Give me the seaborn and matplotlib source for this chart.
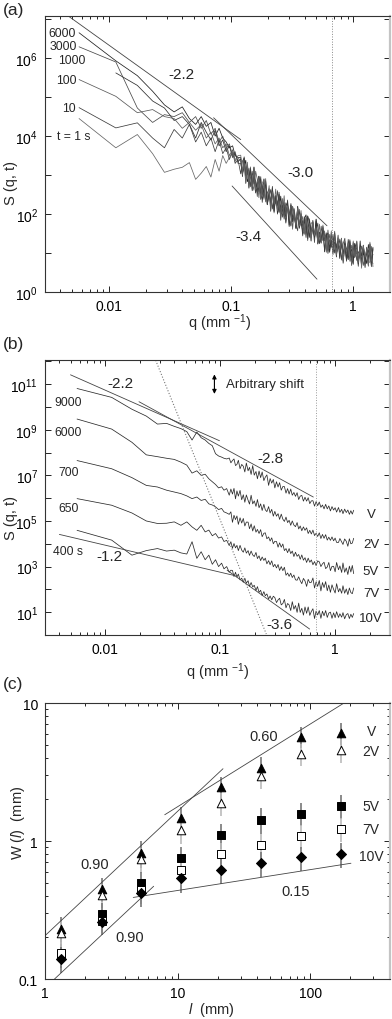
import numpy as np
import pandas as pd
import matplotlib
matplotlib.use('Agg')
import matplotlib.pyplot as plt
import seaborn as sns
from matplotlib.ticker import LogLocator, NullFormatter, NullLocator

# wavevector grid (mm^-1) shared by panels (a) and (b)
q = [0.0057, 0.0114, 0.0171, 0.0228, 0.0285, 0.0342, 0.0399, 0.0456, 0.0513, 0.057,
     0.0627, 0.0684, 0.0741, 0.0798, 0.0855, 0.0912, 0.0969, 0.103, 0.108, 0.114,
     0.120, 0.124, 0.128, 0.132, 0.136, 0.140, 0.144, 0.149, 0.154, 0.159,
     0.164, 0.169, 0.175, 0.180, 0.186, 0.192, 0.198, 0.205, 0.211, 0.218,
     0.225, 0.232, 0.240, 0.247, 0.255, 0.264, 0.272, 0.281, 0.290, 0.299,
     0.309, 0.319, 0.329, 0.340, 0.351, 0.362, 0.374, 0.386, 0.398, 0.411,
     0.424, 0.438, 0.452, 0.467, 0.482, 0.497, 0.513, 0.530, 0.547, 0.565,
     0.583, 0.602, 0.621, 0.641, 0.662, 0.683, 0.705, 0.728, 0.752, 0.776,
     0.801, 0.827, 0.854, 0.881, 0.910, 0.939, 0.970, 1.00, 1.03, 1.07,
     1.10, 1.14, 1.17, 1.21, 1.25, 1.29, 1.33, 1.37, 1.41, 1.45]

# panel (a): log10 S(q, t) for t = 6000, 3000, 1000, 100, 10, 1 s
a_6000 = [6.65, 5.93, 5.55, 5.15, 4.8, 4.62, 4.75, 4.45, 4.3, 4.5, 4.25, 4.35, 4.0, 4.2, 3.95, 3.85, 3.7, 3.75, 3.5, 3.45,
          3.45, 3.05, 3.2, 3.38, 2.83, 2.95, 3.13, 2.6, 2.97, 2.83, 2.57, 2.97, 2.48, 2.72, 2.54, 2.85, 2.25, 2.57, 2.31, 2.61,
          2.07, 2.47, 2.3, 2.04, 2.46, 2.06, 2.19, 1.77, 2.24, 1.98, 2.23, 1.8, 2.0, 1.63, 2.15, 1.7, 1.83, 1.54, 1.89, 1.98,
          1.37, 1.74, 1.53, 1.8, 1.37, 1.87, 1.25, 1.52, 1.29, 1.68, 1.03, 1.46, 1.51, 1.02, 1.33, 1.06, 1.52, 0.9, 1.3, 1.08,
          1.38, 0.74, 1.26, 1.11, 0.83, 1.34, 0.88, 0.71, 1.24, 1.09, 0.72, 1.31, 0.78, 1.04, 0.63, 1.15, 0.84, 1.22, 0.69, 1.09]
a_3000 = [6.29, 5.90, 4.72, 4.35, 4.55, 4.5, 4.6, 4.35, 4.5, 4.2, 4.4, 4.05, 4.2, 3.85, 4.0, 3.7, 3.8, 3.5, 3.6, 3.3,
          3.3, 3.02, 3.45, 2.98, 3.02, 3.18, 2.7, 3.1, 2.77, 2.86, 2.45, 2.97, 2.58, 2.76, 2.38, 2.83, 2.35, 2.45, 2.63, 2.13,
          2.45, 2.26, 2.6, 2.06, 2.24, 1.92, 2.29, 2.01, 2.32, 1.72, 2.11, 1.92, 2.14, 1.73, 1.57, 2.12, 1.69, 1.84, 1.51, 1.88,
          1.32, 1.88, 1.55, 1.72, 1.27, 1.86, 1.37, 1.26, 1.69, 1.32, 1.53, 1.02, 1.59, 1.14, 1.31, 0.96, 1.56, 1.0, 1.12, 1.36,
          0.82, 1.24, 1.38, 0.83, 0.95, 1.3, 0.68, 1.19, 0.92, 1.31, 0.78, 1.07, 0.68, 1.2, 0.79, 0.75, 1.09, 0.89, 0.65, 1.15]
a_1000 = [np.nan, 5.62, 5.3, 4.9, 4.72, 4.4, 4.5, 4.3, 3.95, 4.35, 4.1, 3.9, 4.15, 3.75, 3.9, 3.6, 3.75, 3.45, 3.55, 3.35,
          3.41, 2.96, 3.43, 3.0, 3.25, 2.68, 3.03, 2.72, 3.19, 2.54, 2.85, 2.96, 2.38, 2.5, 2.9, 2.33, 2.54, 2.65, 2.07, 2.65,
          2.29, 2.46, 2.0, 2.56, 2.04, 2.24, 1.87, 2.29, 2.18, 1.68, 2.27, 1.82, 1.98, 1.65, 2.2, 1.64, 2.01, 1.68, 1.83, 1.4,
          1.95, 1.8, 1.39, 1.62, 1.43, 1.82, 1.23, 1.54, 1.27, 1.64, 1.33, 1.52, 0.99, 1.34, 1.15, 1.48, 1.0, 1.2, 1.31, 0.86,
          1.34, 0.98, 1.18, 0.82, 1.35, 0.98, 1.1, 0.81, 1.25, 0.81, 1.01, 1.09, 0.66, 1.14, 0.9, 0.73, 1.22, 0.99, 0.78, 1.13]
a_100 = [5.45, 5.02, 4.6, 4.68, 4.5, 4.45, 4.2, 4.35, 4.15, 4.3, 3.95, 4.1, 3.8, 3.95, 3.7, 3.8, 3.5, 3.65, 3.4, 3.45,
         3.35, 3.0, 3.47, 3.02, 3.23, 2.66, 3.21, 2.8, 2.61, 3.1, 2.89, 2.42, 2.9, 2.6, 2.42, 2.91, 2.24, 2.53, 2.29, 2.67,
         2.03, 2.48, 2.2, 2.5, 2.0, 2.04, 2.47, 1.81, 2.2, 1.96, 2.23, 1.61, 2.1, 1.67, 1.93, 1.72, 2.09, 1.48, 1.57, 1.92,
         1.63, 1.76, 1.31, 1.84, 1.47, 1.68, 1.25, 1.5, 1.25, 1.72, 1.31, 1.44, 1.05, 1.48, 1.23, 1.07, 1.48, 0.96, 1.28, 1.04,
         1.37, 0.8, 1.14, 0.99, 1.25, 0.79, 1.2, 0.98, 0.88, 1.29, 0.8, 1.02, 1.18, 0.68, 0.9, 1.1, 0.74, 0.78, 1.17, 0.65]
a_10 = [4.73, 4.21, 4.34, 3.95, 3.70, 4.17, 3.95, 4.3, 3.85, 4.1, 3.75, 3.95, 3.6, 3.9, 3.55, 3.7, 3.4, 3.6, 3.3, 3.4,
        3.03, 3.36, 3.43, 2.8, 3.15, 2.92, 3.17, 2.72, 3.2, 2.56, 2.81, 2.58, 2.96, 2.3, 2.72, 2.75, 2.24, 2.55, 2.27, 2.71,
        2.07, 2.46, 2.22, 2.5, 1.84, 2.34, 2.17, 1.87, 2.36, 1.88, 1.69, 2.2, 2.02, 1.63, 2.19, 1.64, 1.87, 1.44, 1.93, 1.6,
        1.95, 1.4, 1.77, 1.78, 1.4, 1.57, 1.77, 1.24, 1.38, 1.58, 1.07, 1.46, 1.34, 1.1, 1.5, 1.02, 1.28, 1.12, 1.46, 0.89,
        1.22, 0.98, 1.3, 0.79, 1.2, 1.06, 0.82, 1.27, 0.9, 1.05, 0.66, 1.15, 0.92, 1.2, 0.79, 1.03, 0.68, 1.24, 0.81, 0.97]
a_1 = [4.45, 3.70, 4.04, 3.55, 3.07, 3.15, 3.20, 3.32, 2.89, 3.05, 3.22, 2.95, 3.4, 3.1, 3.5, 3.3, 3.45, 3.6, 3.35, 3.5,
       3.51, 3.12, 3.31, 2.78, 3.33, 2.86, 3.01, 2.64, 3.21, 2.62, 2.71, 2.94, 2.38, 2.78, 2.9, 2.31, 2.4, 2.73, 2.09, 2.57,
       2.27, 2.64, 2.08, 2.34, 1.92, 2.4, 1.97, 1.89, 2.21, 1.97, 1.71, 2.18, 1.97, 1.71, 2.15, 1.7, 1.76, 1.94, 1.48, 1.9,
       1.59, 1.7, 1.31, 1.83, 1.45, 1.64, 1.27, 1.74, 1.28, 1.38, 1.57, 1.08, 1.41, 1.22, 1.57, 1.04, 1.24, 0.94, 1.32, 1.06,
       1.38, 0.8, 1.2, 1.03, 1.27, 0.88, 0.74, 1.31, 0.9, 1.07, 0.76, 1.15, 0.61, 1.2, 0.89, 1.09, 0.66, 1.28, 0.81, 0.73]
a_names = ['6000', '3000', '1000', '100', '10', 't = 1 s']

# panel (a) power-law guides (q ends, log10 S ends)
a_fit22_q, a_fit22_s = [0.0047, 0.12], [7.07, 3.91]
a_fit30_q, a_fit30_s = [0.072, 0.61], [4.47, 1.70]
a_fit34_q, a_fit34_s = [0.102, 0.505], [2.72, 0.33]
a_qcut = 0.665

# panel (b): log10 S(q, t), arbitrarily shifted, runs V, 2V, 5V, 7V, 10V
b_V = [10.81, 10.42, 9.9, 9.6, 9.25, 9.28, 9.15, 9.05, 8.92, 8.55, 8.9, 8.65, 8.55, 8.4, 8.3, 7.95, 7.85, 7.8, 7.75, 7.72,
       7.76, 7.55, 7.65, 7.72, 7.43, 7.48, 7.66, 7.29, 7.48, 7.4, 7.15, 7.54, 7.2, 7.35, 7.04, 7.43, 7.01, 7.17, 6.85, 7.19,
       6.9, 7.15, 6.77, 6.92, 7.02, 6.56, 6.86, 6.66, 6.82, 6.45, 6.72, 6.49, 6.68, 6.35, 6.51, 6.51, 6.22, 6.42, 6.18, 6.4,
       6.13, 6.25, 6.08, 6.24, 5.94, 6.09, 6.12, 5.87, 6.04, 5.87, 6.02, 5.76, 5.88, 5.89, 5.65, 5.85, 5.67, 5.83, 5.6, 5.7,
       5.53, 5.73, 5.53, 5.66, 5.44, 5.63, 5.48, 5.58, 5.39, 5.59, 5.38, 5.51, 5.32, 5.52, 5.37, 5.48, 5.29, 5.45, 5.3, 5.47]
b_2V = [9.47, 9.03, 8.45, 7.9, 7.82, 7.75, 7.7, 7.58, 7.45, 7.1, 7.2, 7.0, 7.05, 6.85, 6.72, 6.6, 6.45, 6.5, 6.35, 6.42,
        6.13, 6.4, 6.18, 6.43, 5.97, 6.32, 6.09, 6.34, 5.93, 6.15, 5.82, 6.14, 5.91, 5.74, 6.13, 5.75, 5.88, 5.64, 5.94, 5.58,
        5.75, 5.46, 5.73, 5.49, 5.41, 5.63, 5.35, 5.51, 5.21, 5.42, 5.21, 5.32, 5.07, 5.3, 5.08, 4.98, 5.17, 4.93, 5.03, 4.81,
        5.0, 4.82, 4.75, 4.93, 4.65, 4.78, 4.57, 4.74, 4.59, 4.7, 4.45, 4.59, 4.43, 4.6, 4.36, 4.46, 4.32, 4.48, 4.23, 4.41,
        4.24, 4.4, 4.16, 4.29, 4.15, 4.3, 4.13, 4.25, 4.06, 4.06, 4.23, 4.08, 3.97, 4.21, 4.11, 3.89, 4.22, 4.0, 4.03, 4.24]
b_5V = [7.65, 7.29, 6.9, 6.56, 6.49, 6.35, 6.27, 6.2, 6.1, 5.98, 6.05, 5.9, 5.95, 5.75, 5.7, 5.62, 5.5, 5.55, 5.4, 5.35,
        5.29, 5.4, 4.94, 5.25, 5.06, 5.22, 4.85, 5.14, 4.91, 5.11, 4.78, 4.95, 4.95, 4.66, 4.87, 4.56, 4.79, 4.51, 4.63, 4.45,
        4.62, 4.31, 4.46, 4.48, 4.22, 4.3, 4.12, 4.26, 4.0, 4.11, 4.1, 3.85, 4.04, 3.85, 3.99, 3.7, 3.79, 3.61, 3.79, 3.57,
        3.68, 3.44, 3.63, 3.45, 3.53, 3.32, 3.51, 3.28, 3.39, 3.18, 3.37, 3.19, 3.29, 3.08, 3.22, 3.04, 3.25, 3.21, 3.0, 3.12,
        3.19, 2.91, 2.98, 3.18, 2.82, 3.01, 3.01, 2.77, 3.18, 2.86, 3.03, 2.74, 3.16, 2.75, 2.94, 2.65, 3.02, 2.76, 3.05, 2.69]
b_7V = [5.98, 5.69, 5.35, 5.0, 4.89, 4.9, 4.96, 4.81, 4.96, 4.74, 4.59, 4.81, 4.52, 4.6, 4.35, 4.45, 4.25, 4.3, 4.1, 4.15,
        3.92, 4.09, 3.8, 4.01, 3.82, 3.93, 3.7, 3.93, 3.72, 3.63, 3.82, 3.59, 3.7, 3.49, 3.68, 3.51, 3.44, 3.62, 3.35, 3.47,
        3.26, 3.42, 3.27, 3.37, 3.12, 3.26, 3.08, 3.25, 2.99, 3.1, 2.94, 3.09, 2.83, 3.0, 2.82, 2.97, 2.62, 2.72, 2.57, 2.71,
        2.52, 2.63, 2.42, 2.4, 2.55, 2.38, 2.25, 2.48, 2.37, 2.13, 2.44, 2.29, 2.31, 2.5, 2.06, 2.33, 2.13, 2.39, 1.93, 2.3,
        2.08, 2.34, 1.94, 2.19, 1.87, 2.2, 2.0, 1.84, 2.25, 1.89, 2.04, 1.83, 2.16, 1.83, 2.02, 1.77, 2.06, 1.86, 1.81, 2.06]
b_10V = [4.59, 4.16, 3.5, 3.7, 3.79, 3.68, 3.72, 3.6, 3.55, 4.09, 3.36, 3.65, 3.3, 3.5, 3.1, 3.3, 3.0, 3.15, 2.9, 3.0,
         2.75, 2.84, 2.83, 2.56, 2.75, 2.54, 2.67, 2.42, 2.49, 2.31, 2.49, 2.27, 2.38, 2.13, 2.3, 2.11, 2.18, 1.95, 2.12, 1.87,
         1.96, 1.73, 1.9, 1.72, 1.8, 1.58, 1.71, 1.54, 1.7, 1.64, 1.42, 1.54, 1.61, 1.32, 1.38, 1.56, 1.19, 1.38, 1.32, 1.07,
         1.46, 1.13, 1.29, 0.99, 1.4, 0.99, 1.17, 0.87, 1.23, 0.95, 1.23, 0.86, 1.03, 1.15, 0.72, 1.05, 0.88, 1.07, 0.73, 1.04,
         0.84, 1.07, 0.77, 0.96, 1.0, 0.73, 0.97, 0.76, 1.02, 0.77, 0.93, 0.78, 0.98, 0.71, 0.89, 0.94, 0.72, 0.91, 0.77, 0.94]
b_names = ['V', '2V', '5V', '7V', '10V']
b_times = ['9000', '6000', '700', '650', '400 s']

b_fit22_q, b_fit22_s = [0.005, 0.0986], [11.41, 8.52]
b_fit28_q, b_fit28_s = [0.0197, 0.646], [10.23, 6.05]
b_fit12_q, b_fit12_s = [0.004, 0.135], [4.41, 2.60]
b_fit36_q, b_fit36_s = [0.115, 0.6], [2.84, 0.26]
b_steep_q, b_steep_s = [0.0275, 0.252], [12.05, 0.04]
b_qcut = 0.675

# panel (c): interface width W(l) in mm, with error bars
l_mm = [1.33, 2.67, 5.33, 10.7, 21.3, 42.7, 85.3, 170.7]
W_V = [0.23, 0.45, 0.82, 1.47, 2.46, 3.39, 5.7, 6.1]
W_2V = [0.215, 0.405, 0.74, 1.2, 1.87, 2.95, 4.27, 4.6]
W_5V = [0.15, 0.295, 0.5, 0.75, 1.1, 1.43, 1.58, 1.8]
W_7V = [0.155, 0.265, 0.44, 0.62, 0.8, 0.935, 1.09, 1.22]
W_10V = [0.14, 0.26, 0.42, 0.54, 0.62, 0.69, 0.76, 0.8]
E_V = [0.05, 0.09, 0.18, 0.3, 0.45, 0.65, 1.0, 1.1]
E_2V = [0.05, 0.08, 0.15, 0.25, 0.35, 0.55, 0.8, 0.9]
E_5V = [0.03, 0.06, 0.1, 0.16, 0.22, 0.3, 0.3, 0.35]
E_7V = [0.03, 0.05, 0.09, 0.13, 0.16, 0.19, 0.22, 0.24]
E_10V = [0.03, 0.05, 0.09, 0.12, 0.13, 0.14, 0.15, 0.16]

c_fit90u_l, c_fit90u_w = [1.0, 22.0], [0.206, 3.34]
c_fit60_l, c_fit60_w = [8.0, 180.0], [1.55, 10.0]
c_fit90l_l, c_fit90l_w = [1.18, 6.6], [0.1, 0.47]
c_fit15_l, c_fit15_w = [4.63, 203.0], [0.39, 0.69]

# ---------------- style ----------------
sns.set_theme(style='ticks')
plt.rcParams['font.family'] = ['Liberation Sans', 'DejaVu Sans']
plt.rcParams['mathtext.fontset'] = 'custom'
plt.rcParams['mathtext.rm'] = 'Liberation Sans'
plt.rcParams['mathtext.it'] = 'Liberation Sans:italic'

fig = plt.figure(figsize=(3.92, 10.2), dpi=100)
ax_a = fig.add_axes([0.1148, 0.7127, 0.8801, 0.2706])
ax_b = fig.add_axes([0.1148, 0.3765, 0.8801, 0.2696])
ax_c = fig.add_axes([0.1148, 0.0392, 0.8801, 0.2706])


def style_axis(ax):
    ax.set_xscale('log')
    ax.set_yscale('log')
    ax.tick_params(which='both', direction='in', top=True, right=True,
                   labelsize=10, width=0.6, colors='black', pad=5)
    ax.tick_params(which='major', length=4)
    ax.tick_params(which='minor', length=2)
    for s in ['left', 'top', 'bottom']:
        ax.spines[s].set_linewidth(0.8)
        ax.spines[s].set_color('#333333')
    ax.spines['right'].set_color('#c4c4c4')
    ax.spines['right'].set_linewidth(1.6)


def guide(ax, xs, ys, **kw):
    kw.setdefault('color', '#444444')
    kw.setdefault('lw', 0.6)
    sns.lineplot(x=xs, y=ys, ax=ax, estimator=None, sort=False, legend=False, **kw)


# ---------------- panel (a) ----------------
a_series = [a_6000, a_3000, a_1000, a_100, a_10, a_1]
df_a = pd.DataFrame({
    'q': np.tile(q, len(a_series)),
    'S': 10 ** np.concatenate([np.array(s, dtype=float) for s in a_series]),
    't': np.repeat(a_names, len(q)),
}).dropna()
pal_a = dict(zip(a_names, ['#1e1e1e', '#4a4a4a', '#2e2e2e', '#5a5a5a', '#3c3c3c', '#666666']))
sns.lineplot(data=df_a, x='q', y='S', hue='t', palette=pal_a, estimator=None, sort=False,
             lw=0.55, legend=False, ax=ax_a)
style_axis(ax_a)
guide(ax_a, a_fit22_q, [10 ** v for v in a_fit22_s])
guide(ax_a, a_fit30_q, [10 ** v for v in a_fit30_s])
guide(ax_a, a_fit34_q, [10 ** v for v in a_fit34_s])
ax_a.axvline(a_qcut, color='#888888', lw=0.7, ls=':')
ax_a.set_xlim(0.003, 2.0)
ax_a.set_ylim(1, 1.2e7)
ax_a.set_xticks([0.01, 0.1, 1])
ax_a.set_xticklabels(['0.01', '0.1', '1'])
ax_a.xaxis.set_minor_locator(LogLocator(base=10, subs=np.arange(2, 10)))
ax_a.xaxis.set_minor_formatter(NullFormatter())
ax_a.set_yticks([10.0 ** k for k in range(0, 8)])
ax_a.set_yticklabels(['10$^{%d}$' % k if k % 2 == 0 else '' for k in range(0, 8)])
ax_a.yaxis.set_minor_locator(NullLocator())
ax_a.set_xlabel('')
ax_a.set_ylabel('')

ax_a.text(0.0394, 3.8e5, '-2.2', fontsize=11, ha='center', va='center')
ax_a.text(0.369, 1.2e3, '-3.0', fontsize=11, ha='center', va='center')
ax_a.text(0.14, 27, '-3.4', fontsize=11, ha='center', va='center')
for name, x, y in zip(a_names, [0.0054, 0.0055, 0.0064, 0.0054, 0.0054, 0.0052],
                      [10 ** 6.65, 10 ** 6.3, 10 ** 5.96, 10 ** 5.45, 10 ** 4.73, 10 ** 3.99]):
    ax_a.text(x, y, name, fontsize=8.8, ha='right' if name != 't = 1 s' else 'center', va='center')
ax_a.text(-0.1, 0.4, 'S (q, t)', transform=ax_a.transAxes, rotation=90, fontsize=10.5,
          ha='center', va='center')
ax_a.text(0.507, -0.11, 'q (mm $^{-1}$)', transform=ax_a.transAxes, fontsize=10.5,
          ha='center', va='center')

# ---------------- panel (b) ----------------
b_series = [b_V, b_2V, b_5V, b_7V, b_10V]
df_b = pd.DataFrame({
    'q': np.tile(q, len(b_series)),
    'S': 10 ** np.concatenate([np.array(s, dtype=float) for s in b_series]),
    'run': np.repeat(b_names, len(q)),
})
sns.lineplot(data=df_b, x='q', y='S', hue='run', palette=['#2a2a2a'] * 5, estimator=None,
             sort=False, lw=0.55, legend=False, ax=ax_b)
style_axis(ax_b)
guide(ax_b, b_fit22_q, [10 ** v for v in b_fit22_s])
guide(ax_b, b_fit28_q, [10 ** v for v in b_fit28_s])
guide(ax_b, b_fit12_q, [10 ** v for v in b_fit12_s])
guide(ax_b, b_fit36_q, [10 ** v for v in b_fit36_s])
guide(ax_b, b_steep_q, [10 ** v for v in b_steep_s], color='#777777', ls=':', lw=0.8)
ax_b.axvline(b_qcut, color='#999999', lw=0.7, ls=':')
ax_b.set_xlim(0.003, 3.0)
ax_b.set_ylim(1.1, 1.15e12)
ax_b.set_xticks([0.01, 0.1, 1])
ax_b.set_xticklabels(['0.01', '0.1', '1'])
ax_b.xaxis.set_minor_locator(LogLocator(base=10, subs=np.arange(2, 10)))
ax_b.xaxis.set_minor_formatter(NullFormatter())
ax_b.set_yticks([10.0 ** k for k in range(0, 13)])
ax_b.set_yticklabels(['10$^{%d}$' % k if k % 2 == 1 else '' for k in range(0, 13)])
ax_b.yaxis.set_minor_locator(NullLocator())
ax_b.set_xlabel('')
ax_b.set_ylabel('')

ax_b.text(0.0136, 10 ** 11.07, '-2.2', fontsize=11, ha='center', va='center')
ax_b.text(0.273, 10 ** 7.77, '-2.8', fontsize=11, ha='center', va='center')
ax_b.text(0.0108, 10 ** 3.45, '-1.2', fontsize=11, ha='center', va='center')
ax_b.text(0.327, 10 ** 0.49, '-3.6', fontsize=11, ha='center', va='center')
for name, y in zip(b_times, [10.23, 8.89, 7.14, 5.59, 3.69]):
    ax_b.text(0.0048, 10 ** y, name, fontsize=8.8, ha='center', va='center')
for name, y in zip(b_names, [5.32, 4.01, 2.79, 1.83, 0.74]):
    ax_b.text(2.05, 10 ** y, name, fontsize=9.5, ha='center', va='center')
ax_b.annotate('', xy=(0.0892, 10 ** 10.45), xytext=(0.0892, 10 ** 11.55),
              arrowprops=dict(arrowstyle='<|-|>', lw=0.8, color='black', mutation_scale=6))
ax_b.text(0.113, 10 ** 11.0, 'Arbitrary shift', fontsize=9.5, ha='left', va='center')
ax_b.text(-0.1, 0.43, 'S (q, t)', transform=ax_b.transAxes, rotation=90, fontsize=10.5,
          ha='center', va='center')
ax_b.text(0.5, -0.13, 'q (mm $^{-1}$)', transform=ax_b.transAxes, fontsize=10.5,
          ha='center', va='center')

# ---------------- panel (c) ----------------
style_axis(ax_c)
c_series = [
    ('V', W_V, E_V, '^', 'black', '#777777'),
    ('2V', W_2V, E_2V, '^', 'white', '#bbbbbb'),
    ('5V', W_5V, E_5V, 's', 'black', '#777777'),
    ('7V', W_7V, E_7V, 's', 'white', '#bbbbbb'),
    ('10V', W_10V, E_10V, 'D', 'black', '#777777'),
]
for name, W, E, m, fc, ec in c_series:
    ax_c.errorbar(l_mm, W, yerr=E, fmt='none', ecolor=ec, elinewidth=1.2, capsize=0, zorder=2)
for name, W, E, m, fc, ec in c_series:
    sns.scatterplot(x=l_mm, y=W, marker=m, s=38 if m != 'D' else 26, color=fc,
                    edgecolor='black', linewidth=0.7, ax=ax_c, zorder=3, legend=False)

guide(ax_c, c_fit90u_l, c_fit90u_w)
guide(ax_c, c_fit60_l, c_fit60_w)
guide(ax_c, c_fit90l_l, c_fit90l_w)
guide(ax_c, c_fit15_l, c_fit15_w)
ax_c.set_xlim(1, 400)
ax_c.set_ylim(0.1, 10)
ax_c.set_xticks([1, 10, 100])
ax_c.set_xticklabels(['1', '10', '100'])
ax_c.set_yticks([0.1, 1, 10])
ax_c.set_yticklabels(['0.1', '1', '10'])
for axis in [ax_c.xaxis, ax_c.yaxis]:
    axis.set_minor_locator(LogLocator(base=10, subs=np.arange(2, 10)))
    axis.set_minor_formatter(NullFormatter())
ax_c.set_xlabel('')
ax_c.set_ylabel('')

ax_c.text(44.7, 5.8, '0.60', fontsize=10.5, ha='center', va='center')
ax_c.text(2.37, 0.68, '0.90', fontsize=10.5, ha='center', va='center')
ax_c.text(4.37, 0.2, '0.90', fontsize=10.5, ha='center', va='center')
ax_c.text(77.7, 0.436, '0.15', fontsize=10.5, ha='center', va='center')
for name, y in zip(['V', '2V', '5V', '7V', '10V'], [6.3, 4.5, 1.8, 1.22, 0.78]):
    ax_c.text(288, y, name, fontsize=10, ha='center', va='center')
ax_c.text(-0.078, 0.57, 'W ($\\mathit{l}$)  (mm)', transform=ax_c.transAxes, rotation=90,
          fontsize=10.5, ha='center', va='center')
ax_c.text(0.483, -0.11, '$\\mathit{l}$  (mm)', transform=ax_c.transAxes, fontsize=10.5,
          ha='center', va='center')

fig.text(0.008, 1 - 10 / 1020, '(a)', fontsize=12.5, ha='left', va='center')
fig.text(0.008, 1 - 345 / 1020, '(b)', fontsize=12.5, ha='left', va='center')
fig.text(0.008, 1 - 685 / 1020, '(c)', fontsize=12.5, ha='left', va='center')

fig.savefig('out.png', dpi=100, facecolor='white')
